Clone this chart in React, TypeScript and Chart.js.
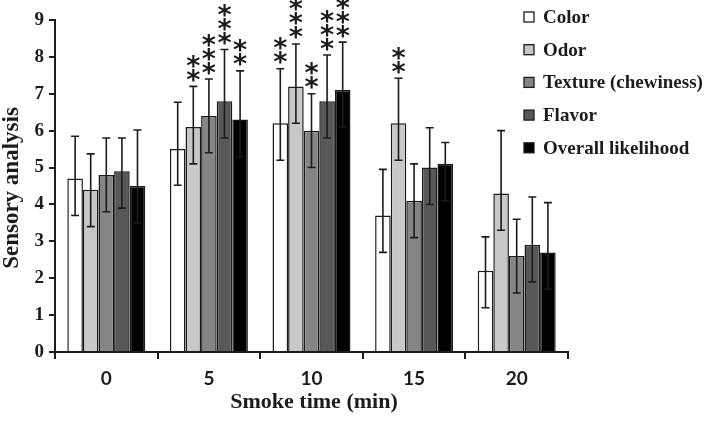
import React, { useEffect, useRef } from 'react';
import { Chart, registerables } from 'chart.js';

Chart.register(...registerables);

const categories = ['0', '5', '10', '15', '20'];
const seriesNames = ['Color', 'Odor', 'Texture (chewiness)', 'Flavor', 'Overall likelihood'];
const seriesColors = ['#ffffff', '#c8c8c8', '#858585', '#585858', '#000000'];

const colorValues = [4.7, 5.5, 6.2, 3.7, 2.2];
const odorValues = [4.4, 6.1, 7.2, 6.2, 4.3];
const textureValues = [4.8, 6.4, 6.0, 4.1, 2.6];
const flavorValues = [4.9, 6.8, 6.8, 5.0, 2.9];
const overallValues = [4.5, 6.3, 7.1, 5.1, 2.7];

const colorErrUp = [1.15, 1.27, 1.48, 1.25, 0.92];
const odorErrUp = [0.97, 1.1, 1.15, 1.22, 1.7];
const textureErrUp = [1.0, 1.0, 1.0, 1.0, 1.0];
const flavorErrUp = [0.9, 1.4, 1.25, 1.08, 1.3];
const overallErrUp = [1.52, 1.32, 1.3, 0.58, 1.35];

const colorErrDown = [1.0, 0.98, 1.0, 1.0, 1.0];
const odorErrDown = [1.0, 1.0, 1.0, 1.0, 1.0];
const textureErrDown = [1.0, 1.0, 1.0, 1.0, 1.0];
const flavorErrDown = [1.0, 1.0, 1.0, 1.0, 1.0];
const overallErrDown = [1.0, 1.0, 1.0, 1.0, 1.0];

const colorStars = [0, 0, 2, 0, 0];
const odorStars = [0, 2, 3, 2, 0];
const textureStars = [0, 3, 2, 0, 0];
const flavorStars = [0, 3, 3, 0, 0];
const overallStars = [0, 2, 3, 0, 0];

const yTicks = [0, 1, 2, 3, 4, 5, 6, 7, 8, 9];
const xTitle = 'Smoke time (min)';
const yTitle = 'Sensory analysis';

const INK = '#1c1c1c';
const SERIF = '"Liberation Serif", "Times New Roman", serif';

const decorPlugin = {
  id: 'decor',
  afterDatasetsDraw(chart: any) {
    const ctx = chart.ctx;
    const y = chart.scales.y;
    ctx.save();
    chart.data.datasets.forEach((ds: any, i: number) => {
      const meta = chart.getDatasetMeta(i);
      meta.data.forEach((bar: any, j: number) => {
        const v = ds.data[j];
        const top = y.getPixelForValue(v + ds.errUp[j]);
        const bot = y.getPixelForValue(v - ds.errDown[j]);
        const x = bar.x;
        ctx.strokeStyle = INK;
        ctx.lineWidth = 1.6;
        ctx.beginPath();
        ctx.moveTo(x, top);
        ctx.lineTo(x, bot);
        ctx.moveTo(x - 4, top);
        ctx.lineTo(x + 4, top);
        ctx.moveTo(x - 4, bot);
        ctx.lineTo(x + 4, bot);
        ctx.stroke();
        const n = ds.stars[j];
        ctx.fillStyle = INK;
        ctx.font = 'bold 27px "DejaVu Sans", sans-serif';
        ctx.textAlign = 'center';
        ctx.textBaseline = 'alphabetic';
        const m = ctx.measureText('*');
        const asc = m.actualBoundingBoxAscent;
        const desc = m.actualBoundingBoxDescent;
        for (let k = 0; k < n; k++) {
          const cy = top - 11 - k * 14;
          ctx.fillText('*', x, cy + (asc - desc) / 2);
        }
      });
    });
    ctx.restore();
  },
  afterDraw(chart: any) {
    const ctx = chart.ctx;
    ctx.save();
    ctx.fillStyle = INK;
    ctx.font = 'bold 22px ' + SERIF;
    ctx.textAlign = 'center';
    ctx.textBaseline = 'middle';
    ctx.fillText(xTitle, 314, 402);
    ctx.font = 'bold 23px ' + SERIF;
    ctx.translate(12, 188);
    ctx.rotate(-Math.PI / 2);
    ctx.fillText(yTitle, 0, 0);
    ctx.restore();

    ctx.save();
    ctx.font = 'bold 19px ' + SERIF;
    ctx.textAlign = 'left';
    ctx.textBaseline = 'middle';
    chart.data.datasets.forEach((ds: any, i: number) => {
      const cy = 17 + i * 32.7;
      ctx.fillStyle = ds.backgroundColor;
      ctx.fillRect(524, cy - 5, 10, 10);
      ctx.strokeStyle = INK;
      ctx.lineWidth = 1.3;
      ctx.strokeRect(524, cy - 5, 10, 10);
      ctx.fillStyle = INK;
      ctx.fillText(ds.label, 543, cy + 1);
    });
    ctx.restore();
  },
};

export default function App() {
  const ref = useRef<HTMLCanvasElement | null>(null);
  useEffect(() => {
    if (!ref.current) return;
    const values = [colorValues, odorValues, textureValues, flavorValues, overallValues];
    const ups = [colorErrUp, odorErrUp, textureErrUp, flavorErrUp, overallErrUp];
    const downs = [colorErrDown, odorErrDown, textureErrDown, flavorErrDown, overallErrDown];
    const stars = [colorStars, odorStars, textureStars, flavorStars, overallStars];
    const chart = new Chart(ref.current, {
      type: 'bar',
      data: {
        labels: categories,
        datasets: seriesNames.map((name, i) => ({
          label: name,
          data: values[i],
          errUp: ups[i],
          errDown: downs[i],
          stars: stars[i],
          backgroundColor: seriesColors[i],
          borderColor: INK,
          borderWidth: 1.5,
          categoryPercentage: 0.76,
          barPercentage: 1.0,
        })) as any,
      },
      options: {
        responsive: false,
        animation: false,
        layout: { padding: { top: 20, right: 141, left: 0, bottom: 0 } },
        plugins: { legend: { display: false }, tooltip: { enabled: false } },
        scales: {
          x: {
            afterFit: (s: any) => { s.height = 72; },
            grid: { display: true, drawOnChartArea: false, drawTicks: true, tickLength: 7, color: INK, lineWidth: 2, offset: true },
            border: { display: true, color: INK, width: 2 },
            ticks: { color: INK, font: { family: 'Lato, sans-serif', weight: 'bold', size: 19 }, padding: 8 },
          },
          y: {
            min: 0,
            max: 9,
            afterFit: (s: any) => { s.width = 55; },
            afterBuildTicks: (s: any) => { s.ticks = yTicks.map((v) => ({ value: v })); },
            grid: { display: true, drawOnChartArea: false, drawTicks: true, tickLength: 6, color: INK, lineWidth: 2 },
            border: { display: true, color: INK, width: 2 },
            ticks: { color: INK, font: { family: SERIF, weight: 'bold', size: 19 }, padding: 5 },
          },
        },
      },
      plugins: [decorPlugin],
    });
    return () => chart.destroy();
  }, []);
  return (
    <div style={{ position: 'fixed', left: 0, top: 0, width: 709, height: 424, background: '#fff' }}>
      <canvas ref={ref} width={709} height={424} />
    </div>
  );
}
